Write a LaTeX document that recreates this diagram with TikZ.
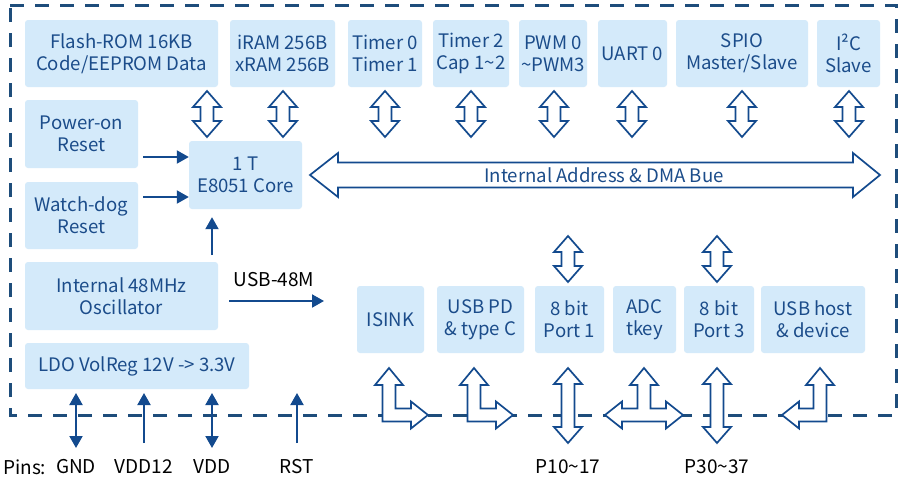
\documentclass[tikz,border=0pt]{standalone}
\usepackage{fontspec}
\setmainfont{Noto Sans CJK SC}
\usetikzlibrary{arrows.meta,calc}
\definecolor{boxc}{HTML}{D4EAFA}
\definecolor{textc}{HTML}{1B4C8A}
\definecolor{arrc}{HTML}{134A8E}
\definecolor{dashc}{HTML}{1E4D7B}
\tikzset{
  hollow/.style={draw=arrc, fill=white, line width=1.7pt, line join=miter},
  solidarr/.style={draw=arrc, line width=2pt, -{Triangle[length=12pt,width=13pt]}},
  solidboth/.style={draw=arrc, line width=2pt, {Triangle[length=12pt,width=13pt]}-{Triangle[length=12pt,width=13pt]}},
  blk/.style={rounded corners=3pt, fill=boxc, text=textc, align=center, inner sep=0pt,
     font=\fontsize{18.6}{22}\selectfont},
  lbl/.style={text=black, inner sep=0pt, font=\fontsize{19}{22}\selectfont},
}
% #1 name, #2 x1, #3 y1, #4 x2, #5 y2, #6 text
\newcommand\BoxAt[6]{\node[blk, minimum width={(#4-#2)*1pt}, minimum height={(#5-#3)*1pt}]
  (#1) at ({(#2+#4)/2},{(#3+#5)/2}) {#6};}
% vertical double hollow arrow: x, ytop, ybottom
\newcommand\VDbl[3]{\draw[hollow] (#1,#2) -- (#1+14,#2+16) -- (#1+6.5,#2+16) -- (#1+6.5,#3-16)
  -- (#1+14,#3-16) -- (#1,#3) -- (#1-14,#3-16) -- (#1-6.5,#3-16) -- (#1-6.5,#2+16)
  -- (#1-14,#2+16) -- cycle;}
% L arrow: up tip and right tip: xc, ytip, yh, xr
\newcommand\LRarr[4]{\draw[hollow] (#1,#2) -- (#1+14,#2+17) -- (#1+6.5,#2+17) -- (#1+6.5,#3-6.5)
  -- (#4-17,#3-6.5) -- (#4-17,#3-13.5) -- (#4,#3) -- (#4-17,#3+13.5) -- (#4-17,#3+6.5)
  -- (#1-6.5,#3+6.5) -- (#1-6.5,#2+17) -- (#1-14,#2+17) -- cycle;}
% L arrow: up tip and left tip: xc, ytip, yh, xl
\newcommand\LLarr[4]{\draw[hollow] (#1,#2) -- (#1+14,#2+17) -- (#1+6.5,#2+17) -- (#1+6.5,#3+6.5)
  -- (#4+17,#3+6.5) -- (#4+17,#3+13.5) -- (#4,#3) -- (#4+17,#3-13.5) -- (#4+17,#3-6.5)
  -- (#1-6.5,#3-6.5) -- (#1-6.5,#2+17) -- (#1-14,#2+17) -- cycle;}
% T arrow: xc, ytip, yh, xl, xr
\newcommand\TArr[5]{\draw[hollow] (#1,#2) -- (#1+14,#2+17) -- (#1+6.5,#2+17) -- (#1+6.5,#3-6.5)
  -- (#5-17,#3-6.5) -- (#5-17,#3-13.5) -- (#5,#3) -- (#5-17,#3+13.5) -- (#5-17,#3+6.5)
  -- (#4+17,#3+6.5) -- (#4+17,#3+13.5) -- (#4,#3) -- (#4+17,#3-13.5) -- (#4+17,#3-6.5)
  -- (#1-6.5,#3-6.5) -- (#1-6.5,#2+17) -- (#1-14,#2+17) -- cycle;}
\begin{document}
\begin{tikzpicture}[x=1pt,y=-1pt]
\useasboundingbox (0,0) rectangle (900,485);
\fill[white] (0,0) rectangle (900,485);
% dashed chip border
\draw[dashc, line width=3pt, dash pattern=on 14pt off 11pt] (10,5) -- (896,5) -- (896,415) -- (10,415) -- cycle;
% top row
\BoxAt{flash}{25}{20}{218}{87}{Flash-ROM 16KB\\Code/EEPROM Data}
\BoxAt{iram}{230}{20}{335}{87}{iRAM 256B\\xRAM 256B}
\BoxAt{timA}{348}{20}{422}{87}{Timer 0\\Timer 1}
\BoxAt{timB}{433}{20}{509}{87}{Timer 2\\Cap 1\textasciitilde2}
\BoxAt{pwm}{519}{20}{587}{87}{PWM 0\\\textasciitilde PWM3}
\BoxAt{uart}{598}{20}{667}{87}{UART 0}
\BoxAt{spio}{676}{20}{808}{87}{SPIO\\Master/Slave}
\BoxAt{iic}{817}{20}{880}{87}{I²C\\Slave}
% left column
\BoxAt{por}{25}{100}{138}{168}{Power-on\\Reset}
\BoxAt{wdg}{25}{182}{138}{249}{Watch-dog\\Reset}
\BoxAt{core}{189}{141}{302}{209}{1 T\\E8051 Core}
\BoxAt{osc}{25}{262}{218}{330}{Internal 48MHz\\Oscillator}
\BoxAt{ldo}{25}{343}{249}{389}{LDO VolReg 12V -> 3.3V}
% bottom row
\BoxAt{isink}{357}{286}{424}{353}{ISINK}
\BoxAt{usbpd}{437}{286}{524}{353}{USB PD\\\& type C}
\BoxAt{pA}{535}{286}{604}{353}{8 bit\\Port 1}
\BoxAt{adc}{613}{286}{676}{353}{ADC\\tkey}
\BoxAt{pC}{684}{286}{754}{353}{8 bit\\Port 3}
\BoxAt{usbh}{761}{286}{865}{353}{USB host\\\& device}
% top bus arrows
\VDbl{207}{91}{137}
\VDbl{283}{91}{137}
\VDbl{385}{91}{137}
\VDbl{471}{91}{137}
\VDbl{554}{91}{137}
\VDbl{632}{91}{137}
\VDbl{742}{91}{137}
\VDbl{849}{91}{137}
% internal bus
\draw[hollow] (310,175) -- (338,153) -- (338,162.5) -- (853,162.5) -- (853,153) -- (880,175)
  -- (853,197) -- (853,187.5) -- (338,187.5) -- (338,197) -- cycle;
\node[text=textc, inner sep=0pt, font=\fontsize{18.6}{22}\selectfont] (bus) at (604,175) {Internal Address \& DMA Bue};
% bus to ports
\VDbl{568}{236}{282}
\VDbl{717}{236}{282}
% solid arrows into core
\coordinate (porA) at (143,157);
\coordinate (wdgA) at (143,197);
\coordinate (oscA) at (212,255);
\draw[solidarr] (porA) -- (core.west |- porA);
\draw[solidarr] (wdgA) -- (core.west |- wdgA);
\draw[solidarr] (oscA) -- ([yshift=-8pt]oscA |- core.south);
% USB-48M
\coordinate (usbS) at (229,301);
\coordinate (usbE) at (324,301);
\draw[solidarr] (usbS) -- (usbE);
\node[lbl] (usblbl) at (274,280) {USB-48M};
% bottom hollow arrows
\LRarr{389}{368}{415}{428}
\LRarr{474}{368}{415}{513}
\VDbl{568}{368}{443}
\TArr{644}{368}{415}{605}{683}
\VDbl{717}{368}{443}
\LLarr{820}{368}{415}{782}
% pins
\node[lbl, anchor=west] (pins) at (3,467) {Pins:};
\node[lbl] (gnd) at (76,467) {GND};
\node[lbl] (vddt) at (144,467) {VDD12};
\node[lbl] (vdd) at (212,467) {VDD};
\node[lbl] (rst) at (297,467) {RST};
\node[lbl] (pten) at (568,467) {P10\textasciitilde17};
\node[lbl] (pthirty) at (717,467) {P30\textasciitilde37};
\coordinate (gndT) at (76,393);
\coordinate (gndB) at (76,448);
\coordinate (vddtB) at (144,443);
\coordinate (vddB) at (212,448);
\coordinate (rstB) at (297,443);
\draw[solidboth] (gndB) -- (gndT);
\draw[solidarr] (vddtB) -- (vddtB |- gndT);
\draw[solidboth] (vddB) -- (vddB |- gndT);
\draw[solidarr] (rstB) -- (rstB |- gndT);
\end{tikzpicture}
\end{document}
